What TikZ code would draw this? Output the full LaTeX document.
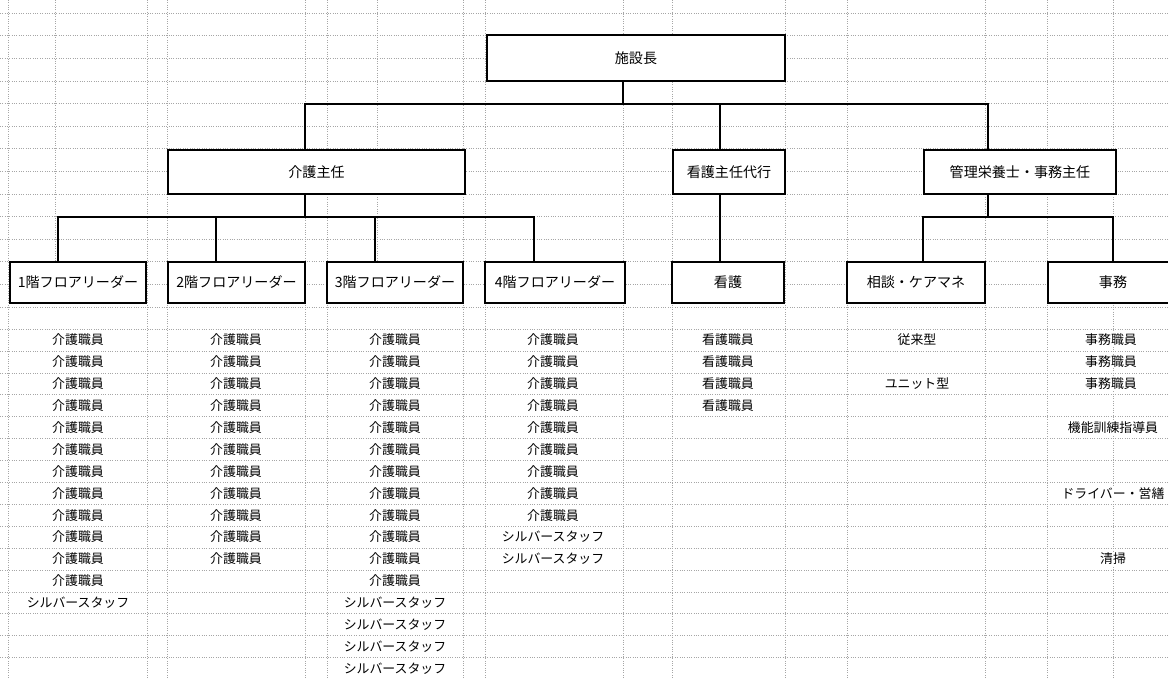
\documentclass[tikz,border=0pt]{standalone}
\usepackage{fontspec}
\setmainfont{Noto Sans CJK JP}
\usetikzlibrary{positioning,calc}

\begin{document}
\begin{tikzpicture}[
      x=0.03cm, y=-0.03cm,
      font=\fontsize{11}{13}\selectfont,
      unit/.style={draw, line width=1.5pt, fill=white, inner sep=0pt, align=center,
                   minimum height=1.32cm, font=\fontsize{12}{14}\selectfont},
      lead/.style={draw, line width=1.5pt, fill=white, inner sep=0pt, align=center,
                   minimum height=1.23cm, font=\fontsize{12}{14}\selectfont},
      staff/.style={inner sep=0.5pt, fill=white},
      link/.style={line width=1.5pt},
      sheetline/.style={gray!70, line width=0.4pt, dash pattern=on 0.6pt off 1.4pt},
    ]
    \useasboundingbox (0,0) rectangle (1168,678);
    \clip (0,0) rectangle (1168,678);

    % ---------- sheet grid ----------
    \foreach \k in {0,...,13}
      \draw[sheetline] (0,{13+22.6*\k}) -- (1168,{13+22.6*\k});
    \foreach \k in {0,...,15}
      \draw[sheetline] (0,{329+21.9*\k}) -- (1168,{329+21.9*\k});
    \foreach \gx in {8,147,167,305,327,463,485,623,672,785,847,985,1047,1113}
      \draw[sheetline] (\gx,0) -- (\gx,678);
    \foreach \gx in {55,377}
      \draw[sheetline] (\gx,0) -- (\gx,262);

    % ---------- top ----------
    \node[unit, minimum width=8.94cm, minimum height=1.38cm] (head) at (636,58) {施設長};

    \node[unit, minimum width=8.91cm] (care) at (316.5,172) {介護主任};
    \node[unit, minimum width=3.36cm] (nurse) at (729,172) {看護主任代行};
    \node[unit, minimum width=5.76cm] (mgmt) at (1020,172) {管理栄養士・事務主任};

    \coordinate (busA) at (623,104);
    \coordinate (dCare) at (305,104);
    \coordinate (dNurse) at (720,104);
    \coordinate (dMgmt) at (988,104);
    \draw[link] (busA |- head.south) -- (busA);
    \draw[link] (dCare |- care.north) -- (dCare) -- (dMgmt) -- (dMgmt |- mgmt.north);
    \draw[link] (dNurse) -- (dNurse |- nurse.north);

    % ---------- second row ----------
    \node[lead, minimum width=4.08cm] (floor1) at (78,282.5) {1階フロアリーダー};
    \node[lead, minimum width=4.11cm] (floor2) at (236.5,282.5) {2階フロアリーダー};
    \node[lead, minimum width=4.08cm] (floor3) at (395,282.5) {3階フロアリーダー};
    \node[lead, minimum width=4.2cm] (floor4) at (555,282.5) {4階フロアリーダー};
    \node[lead, minimum width=3.36cm] (nursing) at (728,282.5) {看護};
    \node[lead, minimum width=4.14cm] (consult) at (916,282.5) {相談・ケアマネ};
    \node[lead, minimum width=3.9cm] (office) at (1113,282.5) {事務};

    \coordinate (busB) at (305,217);
    \coordinate (dF1) at (58,217);
    \coordinate (dF2) at (216,217);
    \coordinate (dF3) at (375,217);
    \coordinate (dF4) at (534,217);
    \draw[link] (busB |- care.south) -- (busB);
    \draw[link] (dF1 |- floor1.north) -- (dF1) -- (dF4) -- (dF4 |- floor4.north);
    \draw[link] (dF2) -- (dF2 |- floor2.north);
    \draw[link] (dF3) -- (dF3 |- floor3.north);

    \draw[link] (dNurse |- nurse.south) -- (dNurse |- nursing.north);

    \coordinate (busC) at (988,217);
    \coordinate (dCons) at (923,217);
    \coordinate (dOff) at (1113,217);
    \draw[link] (busC |- mgmt.south) -- (busC);
    \draw[link] (dCons |- consult.north) -- (dCons) -- (dOff) -- (dOff |- office.north);

    % ---------- staff lists ----------
    \foreach \k in {0,...,11}
      \node[staff] (fa\k) at (78,{340+21.9*\k}) {介護職員};
    \node[staff] (fa12) at (78,{340+21.9*12}) {シルバースタッフ};

    \foreach \k in {0,...,10}
      \node[staff] (fb\k) at (236,{340+21.9*\k}) {介護職員};

    \foreach \k in {0,...,11}
      \node[staff] (fc\k) at (395,{340+21.9*\k}) {介護職員};
    \foreach \k in {12,...,15}
      \node[staff] (fc\k) at (395,{340+21.9*\k}) {シルバースタッフ};

    \foreach \k in {0,...,8}
      \node[staff] (fd\k) at (553,{340+21.9*\k}) {介護職員};
    \foreach \k in {9,10}
      \node[staff] (fd\k) at (553,{340+21.9*\k}) {シルバースタッフ};

    \foreach \k in {0,...,3}
      \node[staff] (ns\k) at (728,{340+21.9*\k}) {看護職員};

    \node[staff] (cs0) at (917,340) {従来型};
    \node[staff] (cs1) at (917,{340+21.9*2}) {ユニット型};

    \foreach \k in {0,...,2}
      \node[staff] (of\k) at (1111,{340+21.9*\k}) {事務職員};
    \node[staff] (of3) at (1113,{340+21.9*4}) {機能訓練指導員};
    \node[staff] (of4) at (1113,{340+21.9*7}) {ドライバー・営繕};
    \node[staff] (of5) at (1113,{340+21.9*10}) {清掃};
  \end{tikzpicture}
\end{document}
